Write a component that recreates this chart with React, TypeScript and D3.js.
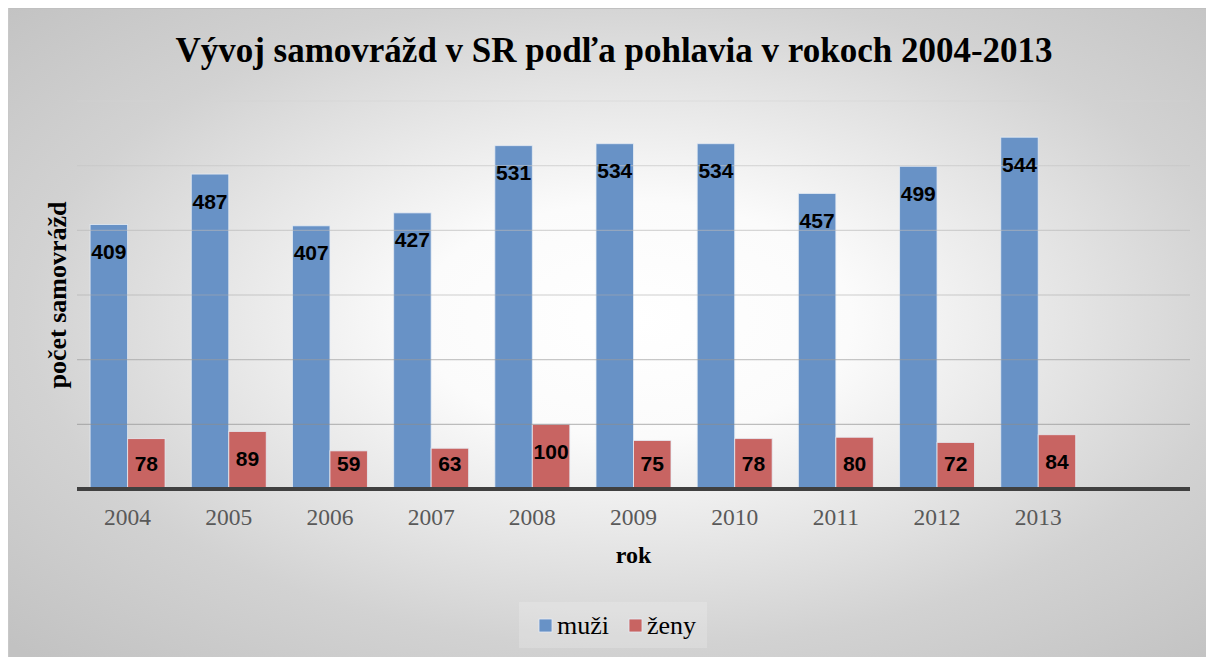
import React from "react";
import * as d3 from "d3";

// Data
const categories: string[] = ["2004", "2005", "2006", "2007", "2008", "2009", "2010", "2011", "2012", "2013", ""];
const years: string[] = ["2004", "2005", "2006", "2007", "2008", "2009", "2010", "2011", "2012", "2013"];
const muzi: number[] = [409, 487, 407, 427, 531, 534, 534, 457, 499, 544];
const zeny: number[] = [78, 89, 59, 63, 100, 75, 78, 80, 72, 84];
const yTicks: number[] = [0, 100, 200, 300, 400, 500, 600];
const seriesNames: string[] = ["muži", "ženy"];

const W = 1206;
const H = 649;
const OX = 8; // svg offset in page
const OY = 8;

const plotLeft = 77 - OX;
const plotRight = 1190 - OX;
const plotTop = 101 - OY;
const plotBottom = 489 - OY;

const colors = ["#6892c6", "#c86462"];

export default function App() {
  const x = d3.scaleBand<string>().domain(categories).range([plotLeft, plotRight]).paddingInner(0.259).paddingOuter(0.1295);
  const y = d3.scaleLinear().domain([0, 600]).range([plotBottom, plotTop]);
  const sub = d3.scaleBand<string>().domain(seriesNames).range([0, x.bandwidth()]).padding(0);

  const series = [muzi, zeny];
  const serif = "'Liberation Serif', 'Times New Roman', serif";
  const sans = "'Liberation Sans', Arial, sans-serif";

  return (
    <svg width={W} height={H} style={{ display: "block" }}>
      <defs>
        <radialGradient id="bg" cx="0.52" cy="0.48" r="0.72">
          <stop offset="0" stopColor="#ffffff" />
          <stop offset="0.25" stopColor="#fbfbfb" />
          <stop offset="0.7" stopColor="#d2d2d2" />
          <stop offset="1" stopColor="#c2c2c2" />
        </radialGradient>
        <linearGradient id="grid" gradientUnits="userSpaceOnUse" x1="0" y1={plotTop} x2="0" y2={plotBottom}>
          <stop offset="0" stopColor="#d4d4d4" />
          <stop offset="1" stopColor="#7f7f7f" />
        </linearGradient>
      </defs>
      <rect x={0} y={0} width={W} height={H} fill="url(#bg)" />
      <line x1={0} y1={0.5} x2={W} y2={0.5} stroke="#c0c0c0" strokeWidth={1} />
      <line x1={0.5} y1={0} x2={0.5} y2={H} stroke="#c8c8c8" strokeWidth={1} />

      {/* Title */}
      <text x={614 - OX} y={62 - OY} textAnchor="middle" fontFamily={serif} fontWeight="bold" fontSize={35} fill="#000">
        Vývoj samovrážd v SR podľa pohlavia v rokoch 2004-2013
      </text>

      {/* Bars */}
      {series.map((vals, si) =>
        vals.map((v, i) => {
          const bx = (x(years[i]) as number) + (sub(seriesNames[si]) as number);
          const by = y(v);
          return (
            <rect key={`b${si}-${i}`} x={bx} y={by} width={sub.bandwidth()} height={plotBottom - by}
              fill={colors[si]} stroke="#e6ecf4" strokeWidth={1} strokeOpacity={0.8} />
          );
        })
      )}

      {/* Gridlines */}
      {yTicks.filter((t) => t > 0).map((t) => (
        <line key={`g${t}`} x1={plotLeft} x2={plotRight} y1={y(t)} y2={y(t)} stroke="url(#grid)" strokeWidth={1.2} opacity={0.55} />
      ))}

      {/* Baseline */}
      <line x1={plotLeft} x2={plotRight} y1={plotBottom} y2={plotBottom} stroke="#404040" strokeWidth={4} />

      {/* Data labels */}
      {series.map((vals, si) =>
        vals.map((v, i) => {
          const cx = (x(years[i]) as number) + (sub(seriesNames[si]) as number) + sub.bandwidth() / 2;
          const top = y(v);
          const cy = Math.min(top + 27, plotBottom - 26);
          return (
            <text key={`l${si}-${i}`} x={cx} y={cy + 7.5} textAnchor="middle" fontFamily={sans} fontWeight="bold" fontSize={21} fill="#000">
              {v}
            </text>
          );
        })
      )}

      {/* X tick labels */}
      {years.map((c) => (
        <text key={`t${c}`} x={(x(c) as number) + x.bandwidth() / 2} y={525 - OY} textAnchor="middle" fontFamily={serif} fontSize={23.5} fill="#595959">
          {c}
        </text>
      ))}

      {/* Axis titles */}
      <text x={(plotLeft + plotRight) / 2} y={563 - OY} textAnchor="middle" fontFamily={serif} fontWeight="bold" fontSize={24} fill="#000">
        rok
      </text>
      <text transform={`translate(${66 - OX},${(plotTop + plotBottom) / 2}) rotate(-90)`} textAnchor="middle" fontFamily={serif} fontWeight="bold" fontSize={26} fill="#000">
        počet samovrážd
      </text>

      {/* Legend */}
      <rect x={519 - OX} y={602 - OY} width={188} height={46} fill="#ffffff" opacity={0.18} />
      {seriesNames.map((n, i) => {
        const lx = (i === 0 ? 539 : 629) - OX;
        return (
          <g key={`lg${n}`}>
            <rect x={lx} y={619 - OY} width={13} height={13} fill={colors[i]} stroke="#e6ecf4" strokeWidth={0.8} />
            <text x={lx + 18} y={634 - OY} fontFamily={serif} fontSize={26} fill="#000">{n}</text>
          </g>
        );
      })}
    </svg>
  );
}
